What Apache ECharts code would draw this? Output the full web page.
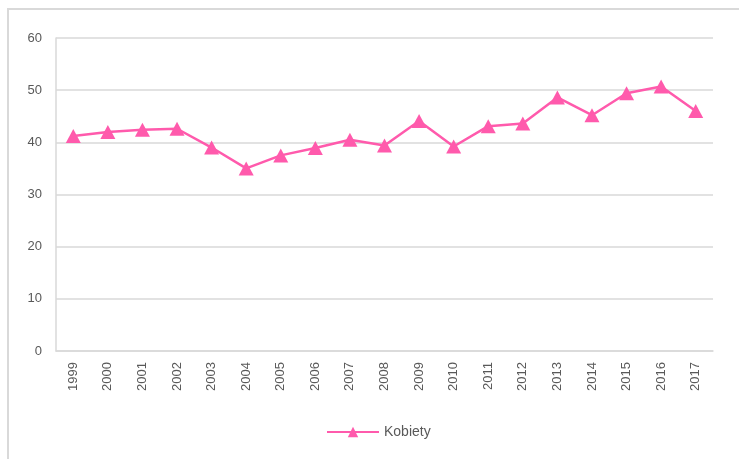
<!DOCTYPE html>
<html lang="pl">
<head>
    <meta charset="UTF-8">
    <title>Kobiety</title>
    <script src="https://cdn.jsdelivr.net/npm/echarts@6/dist/echarts.min.js"></script>
    <style>
        html, body { margin: 0; padding: 0; background: #fff; }
        #main { width: 739px; height: 459px; }
    </style>
</head>
<body>
<div id="main"></div>
<script>
    // dane
    const years = ['1999', '2000', '2001', '2002', '2003', '2004', '2005', '2006', '2007', '2008',
        '2009', '2010', '2011', '2012', '2013', '2014', '2015', '2016', '2017'];
    const kobiety = [41.2, 42.0, 42.4, 42.6, 39.0, 35.0, 37.5, 38.9, 40.5, 39.4,
        44.1, 39.2, 43.1, 43.6, 48.6, 45.2, 49.4, 50.7, 46.0];
    const yTicks = [0, 10, 20, 30, 40, 50, 60];

    const pink = '#ff5aac';
    const txt = '#595959';

    let myChart = echarts.init(document.getElementById('main'));
    let option = {
        animation: false,
        // ramka wykresu (prawa i dolna krawedz poza kadrem)
        graphic: [{
            type: 'rect',
            shape: { x: 8, y: 9, width: 800, height: 600 },
            style: { fill: 'none', stroke: '#d9d9d9', lineWidth: 2 },
            silent: true
        }],
        grid: { left: 56, right: 26, top: 38, bottom: 108 },
        legend: {
            top: 420,
            left: 321,
            itemWidth: 52,
            itemHeight: 13,
            itemGap: 6,
            data: ['Kobiety'],
            textStyle: { color: txt, fontSize: 14, fontFamily: 'Liberation Sans Narrow, Liberation Sans, sans-serif' }
        },
        xAxis: {
            type: 'category',
            data: years,
            boundaryGap: true,
            axisLine: { lineStyle: { color: '#d9d9d9', width: 1.5 } },
            axisTick: { show: false },
            axisLabel: { rotate: 90, color: txt, fontSize: 13, margin: 11, fontFamily: 'Liberation Sans, sans-serif' }
        },
        yAxis: {
            type: 'value',
            min: yTicks[0],
            max: yTicks[yTicks.length - 1],
            interval: 10,
            axisLine: { show: true, lineStyle: { color: '#d9d9d9', width: 1.5 } },
            axisTick: { show: false },
            splitLine: { lineStyle: { color: '#d9d9d9', width: 1.5 } },
            axisLabel: { color: txt, fontSize: 13, margin: 14, fontFamily: 'Liberation Sans, sans-serif' }
        },
        series: [{
            name: 'Kobiety',
            type: 'line',
            data: kobiety,
            symbol: 'triangle',
            symbolSize: [15, 14],
            lineStyle: { color: pink, width: 2.5 },
            itemStyle: { color: pink }
        }]
    };
    myChart.setOption(option);
</script>
</body>
</html>
